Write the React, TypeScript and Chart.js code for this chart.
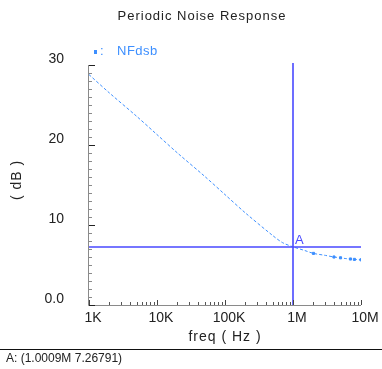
import React, { useEffect, useRef } from "react";
import { Chart, registerables } from "chart.js";

Chart.register(...registerables);

const freqs = [1e3, 2e3, 5e3, 1e4, 2e4, 5e4, 1e5, 2e5, 5e5, 7e5, 1e6, 1.5e6, 2e6, 3e6, 4e6, 5e6, 6e6, 7e6, 8e6, 1e7];
const nfdsb = [28.8, 26.5, 23.6, 21.3, 19.0, 16.1, 13.8, 11.5, 8.7, 7.8, 7.27, 6.8, 6.45, 6.2, 6.0, 5.9, 5.8, 5.75, 5.7, 5.65];
const markerFlags = [0, 0, 0, 0, 0, 0, 0, 0, 0, 0, 0, 0, 1, 0, 1, 1, 0, 1, 1, 1];

const yTickValues = [0, 10, 20, 30];
const yTickLabels = ["0.0", "10", "20", "30"];
const xTickValues = [1e3, 1e4, 1e5, 1e6, 1e7];
const xTickLabels = ["1K", "10K", "100K", "1M", "10M"];

const cursorX = 1.0009e6;
const cursorY = 7.26791;
const cursorName = "A";
const cursorText = "A: (1.0009M 7.26791)";

const titleText = "Periodic Noise Response";
const seriesName = "NFdsb";
const xTitle = "freq ( Hz )";
const yTitle = "( dB )";

const curveColor = "#3d8fff";
const markerColor = "#4a4aff";
const axisColor = "#8a8a8a";
const FONT = "'Liberation Sans', Arial, sans-serif";

const decorPlugin = {
  id: "decor",
  afterDatasetsDraw(chart: any) {
    const ctx = chart.ctx as CanvasRenderingContext2D;
    const xs = chart.scales.x;
    const ys = chart.scales.y;
    const a = chart.chartArea;
    ctx.save();

    // cursor lines
    ctx.strokeStyle = markerColor;
    ctx.lineWidth = 1.6;
    const cx = Math.round(xs.getPixelForValue(cursorX));
    const cy = Math.round(ys.getPixelForValue(cursorY));
    ctx.beginPath();
    ctx.moveTo(cx, a.top - 2);
    ctx.lineTo(cx, a.bottom);
    ctx.moveTo(a.left, cy);
    ctx.lineTo(a.right, cy);
    ctx.stroke();
    ctx.fillStyle = markerColor;
    ctx.font = `13px ${FONT}`;
    ctx.textAlign = "left";
    ctx.textBaseline = "alphabetic";
    ctx.fillText(cursorName, cx + 2, cy - 3);

    // axes
    ctx.strokeStyle = axisColor;
    ctx.lineWidth = 1;
    ctx.beginPath();
    ctx.moveTo(a.left - 0.5, a.top);
    ctx.lineTo(a.left - 0.5, a.bottom + 0.5);
    ctx.lineTo(a.right, a.bottom + 0.5);
    ctx.stroke();

    // y ticks
    for (let v = 0; v <= 30; v += 1) {
      const py = Math.round(ys.getPixelForValue(v)) + 0.5;
      const major = v % 10 === 0;
      ctx.strokeStyle = major ? "#222" : axisColor;
      ctx.beginPath();
      ctx.moveTo(a.left, py);
      ctx.lineTo(a.left + (major ? 6 : 3), py);
      ctx.stroke();
    }
    // x ticks
    for (let d = 3; d <= 7; d++) {
      for (let m = 1; m <= 9; m++) {
        const f = m * Math.pow(10, d);
        if (f > 1e7) break;
        const px = Math.round(xs.getPixelForValue(f)) + 0.5;
        const major = m === 1;
        ctx.strokeStyle = major ? "#444" : "#555";
        ctx.beginPath();
        ctx.moveTo(px, a.bottom);
        ctx.lineTo(px, a.bottom - (major ? 5 : 3));
        ctx.stroke();
      }
    }

    // tick labels
    ctx.fillStyle = "#222";
    ctx.font = `14px ${FONT}`;
    ctx.textAlign = "right";
    ctx.textBaseline = "middle";
    yTickValues.forEach((v, i) => {
      ctx.fillText(yTickLabels[i], a.left - 25, ys.getPixelForValue(v) - 6);
    });
    ctx.textAlign = "center";
    xTickValues.forEach((v, i) => {
      ctx.fillText(xTickLabels[i], xs.getPixelForValue(v) + 4, a.bottom + 13);
    });

    // titles
    ctx.font = `13px ${FONT}`;
    (ctx as any).letterSpacing = "1px";
    ctx.fillText(titleText, 202, 16);
    ctx.font = `14px ${FONT}`;
    ctx.fillText(xTitle, 225, 337);
    ctx.save();
    ctx.translate(17, 180);
    ctx.rotate(-Math.PI / 2);
    ctx.fillText(yTitle, 0, 0);
    ctx.restore();
    (ctx as any).letterSpacing = "0px";

    // legend
    ctx.fillStyle = curveColor;
    ctx.fillRect(94, 50, 3, 4);
    ctx.textAlign = "left";
    ctx.font = `13px ${FONT}`;
    ctx.fillText(":", 100, 51);
    (ctx as any).letterSpacing = "0.5px";
    ctx.fillText(seriesName, 117, 51);
    (ctx as any).letterSpacing = "0px";

    // bottom line and cursor text
    ctx.strokeStyle = "#111";
    ctx.lineWidth = 1;
    ctx.beginPath();
    ctx.moveTo(0, 349.5);
    ctx.lineTo(382, 349.5);
    ctx.stroke();
    ctx.fillStyle = "#222";
    ctx.font = `12px ${FONT}`;
    ctx.textAlign = "left";
    ctx.fillText(cursorText, 6, 359);

    ctx.restore();
  },
};

export default function App() {
  const ref = useRef<HTMLCanvasElement>(null);
  useEffect(() => {
    document.body.style.margin = "0";
    const canvas = ref.current!;
    const chart = new Chart(canvas, {
      type: "line",
      data: {
        datasets: [
          {
            label: seriesName,
            data: freqs.map((f, i) => ({ x: f, y: nfdsb[i] })),
            borderColor: curveColor,
            backgroundColor: curveColor,
            borderWidth: 1,
            borderDash: [3, 2],
            pointStyle: "rect",
            pointRadius: markerFlags.map((m) => (m ? 1.5 : 0)),
            pointBorderWidth: 1,
            tension: 0.3,
            fill: false,
          },
        ],
      },
      options: {
        animation: false,
        responsive: false,
        devicePixelRatio: 1,
        layout: { padding: { left: 89, right: 21, top: 65, bottom: 64 } },
        plugins: { legend: { display: false }, tooltip: { enabled: false }, title: { display: false } },
        scales: {
          x: { type: "logarithmic", min: 1e3, max: 1e7, display: false },
          y: { type: "linear", min: 0, max: 30, display: false },
        },
      },
      plugins: [decorPlugin],
    });
    return () => chart.destroy();
  }, []);
  return (
    <div style={{ width: 382, height: 369, background: "#fff" }}>
      <canvas ref={ref} width={382} height={369} style={{ display: "block" }} />
    </div>
  );
}
